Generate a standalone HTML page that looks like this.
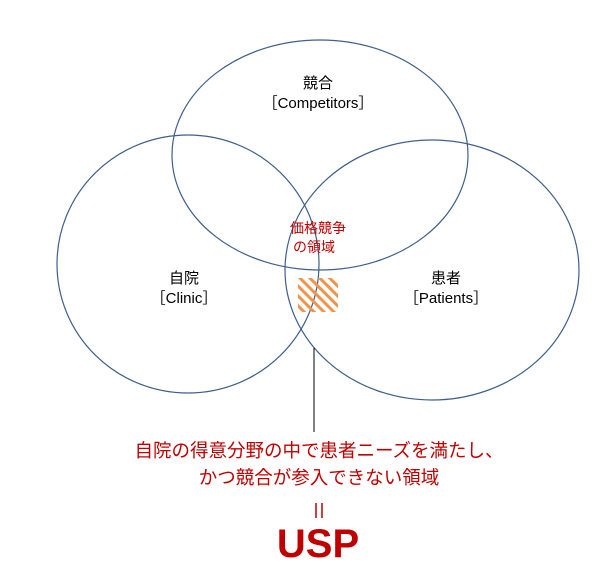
<!DOCTYPE html>
<html><head><meta charset="utf-8"><style>
body{margin:0;background:#fff;}
svg text{font-family:"Liberation Sans","Noto Sans CJK JP",sans-serif;}
</style></head><body>
<svg width="610" height="574" xmlns="http://www.w3.org/2000/svg">
<defs>
<pattern id="h" width="7" height="7" patternUnits="userSpaceOnUse" patternTransform="rotate(-45)">
<rect x="0" y="0" width="3" height="7" fill="#f0944a"/>
</pattern>
</defs>
<rect width="610" height="574" fill="#fff"/>
<ellipse cx="320" cy="155" rx="148" ry="115" fill="none" stroke="#3e5f8e" stroke-width="1.2"/>
<ellipse cx="188" cy="264" rx="131" ry="129" fill="none" stroke="#3e5f8e" stroke-width="1.2"/>
<ellipse cx="432" cy="270" rx="147" ry="130" fill="none" stroke="#3e5f8e" stroke-width="1.2"/>
<rect x="298" y="278" width="40" height="34" fill="url(#h)"/>
<line x1="314" y1="348" x2="314" y2="432" stroke="#000" stroke-width="1"/>
<text x="318" y="88" font-size="15" text-anchor="middle" fill="#000">競合</text>
<text x="318" y="108" font-size="15" text-anchor="middle" fill="#000">［Competitors］</text>
<text x="184" y="283" font-size="15" text-anchor="middle" fill="#000">自院</text>
<text x="184" y="303" font-size="15" text-anchor="middle" fill="#000">［Clinic］</text>
<text x="446" y="283" font-size="15" text-anchor="middle" fill="#000">患者</text>
<text x="446" y="303" font-size="15" text-anchor="middle" fill="#000">［Patients］</text>
<text x="318" y="233" font-size="14" text-anchor="middle" fill="#c00000">価格競争</text>
<text x="314" y="252" font-size="14" text-anchor="middle" fill="#c00000">の領域</text>
<text x="319" y="457" font-size="18.5" text-anchor="middle" fill="#c00000">自院の得意分野の中で患者ニーズを満たし、</text>
<text x="319" y="484" font-size="18.5" text-anchor="middle" fill="#c00000">かつ競合が参入できない領域</text>
<line x1="316" y1="503" x2="316" y2="518" stroke="#c00000" stroke-width="1.5"/>
<line x1="322" y1="503" x2="322" y2="518" stroke="#c00000" stroke-width="1.5"/>
<text x="318" y="557" font-size="40" font-weight="bold" text-anchor="middle" fill="#c00000">USP</text>
</svg>
</body></html>
